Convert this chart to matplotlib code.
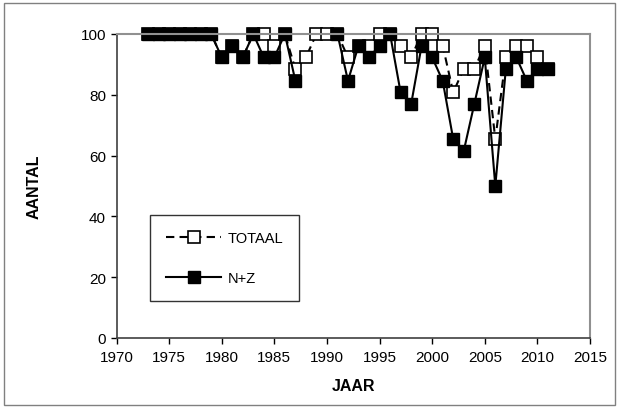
import numpy as np
import matplotlib
matplotlib.use("Agg")
import matplotlib.pyplot as plt
from matplotlib.patches import Rectangle

plt.rcParams['font.family'] = ['Liberation Sans', 'DejaVu Sans']

years = np.arange(1973, 2012)
nan = np.nan
totaal = [100, 100, 100, 100, 100, 100, 100,            # 1973-1979
          92.3, 96.2, 92.3, 100, 100, 96.2, 100,         # 1980-1986
          88.5, 92.3, 100, 100, 100, 92.3, 96.2, 96.2,   # 1987-1994
          100, 100, 96.2, 92.3, 100, 100, 96.2, 80.8,    # 1995-2002
          88.5, 88.5, 96.2, 65.4, 92.3, 96.2, 96.2,      # 2003-2009
          92.3, 88.5]                                    # 2010-2011
nz = [100, 100, 100, 100, 100, 100, 100,
      92.3, 96.2, 92.3, 100, 92.3, 92.3, 100,
      84.6, nan, nan, nan, 100, 84.6, 96.2, 92.3,
      96.2, 100, 80.8, 76.9, 96.2, 92.3, 84.6, 65.4,
      61.5, 76.9, 92.3, 50.0, 88.5, 92.3, 84.6,
      88.5, 88.5]

fig = plt.figure(figsize=(6.19, 4.10), dpi=100)
ax = fig.add_axes([116.5 / 619, 1 - 339 / 410, (590 - 116.5) / 619, (339 - 35) / 410])

ax.plot(years, totaal, linestyle=(0, (4, 2.5)), color='black', linewidth=1.5,
        marker='s', markersize=8, markerfacecolor='white', markeredgecolor='black',
        markeredgewidth=1.2, label='TOTAAL')
ax.plot(years, nz, linestyle='-', color='black', linewidth=1.5,
        marker='s', markersize=8, markerfacecolor='black', markeredgecolor='black',
        label='N+Z')

ax.set_xlim(1970, 2015)
ax.set_ylim(0, 100)
ax.set_xticks(np.arange(1970, 2016, 5))
ax.set_yticks(np.arange(0, 101, 20))
ax.tick_params(direction='out', length=4, width=1, labelsize=11, colors='black')
ax.tick_params(axis='x', pad=5)
for s in ['top', 'right']:
    ax.spines[s].set_color('#909090')
    ax.spines[s].set_linewidth(1.5)
for s in ['left', 'bottom']:
    ax.spines[s].set_color('#404040')
    ax.spines[s].set_linewidth(1.2)
for ln in ax.lines:
    ln.set_clip_on(False)

ax.set_xlabel('JAAR', fontsize=11.5, fontweight='bold', labelpad=10)
ax.set_ylabel('AANTAL', fontsize=11.5, fontweight='bold', labelpad=28)

leg = ax.legend(loc='lower left', bbox_to_anchor=((150 - 116.5) / (590 - 116.5), (339 - 302) / (339 - 35)),
                borderaxespad=0, fontsize=10.5, frameon=True, fancybox=False, edgecolor='black',
                handlelength=3.8, labelspacing=1.8, borderpad=1.1, handletextpad=0.4)
leg.get_frame().set_linewidth(1.0)

fig.patches.append(Rectangle((4 / 619, 4 / 410), 611 / 619, 402 / 410, transform=fig.transFigure,
                             fill=False, edgecolor='#808080', linewidth=1.0))

fig.savefig('out.png', dpi=100)
